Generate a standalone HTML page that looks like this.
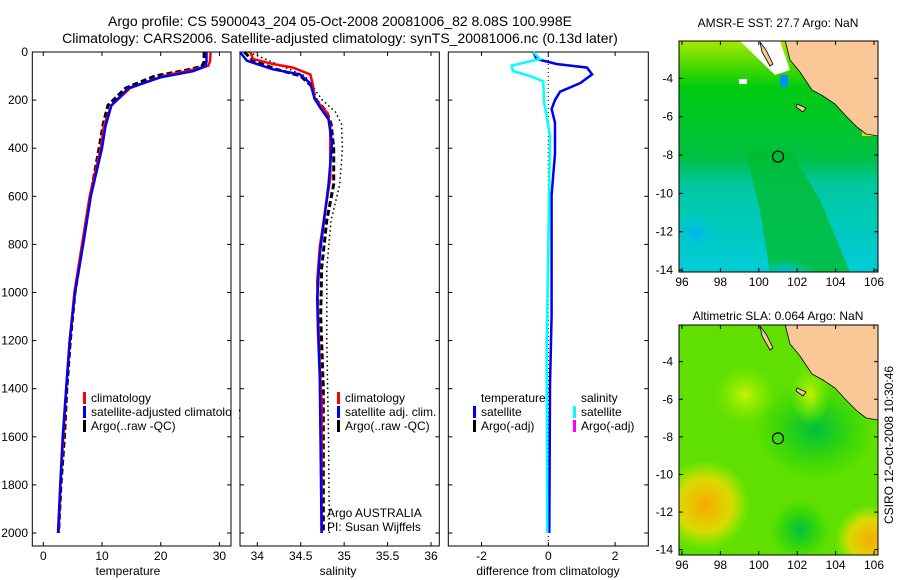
<!DOCTYPE html>
<html><head><meta charset="utf-8"><style>
body{margin:0;background:#fff;}
svg{display:block;font-family:"Liberation Sans",sans-serif;}
</style></head><body>
<svg id="fig" width="900" height="580" viewBox="0 0 900 580" xmlns="http://www.w3.org/2000/svg">
<defs>
<radialGradient id="sstCyanL" cx="0.5" cy="0.5" r="0.5"><stop offset="0" stop-color="#00b4f0"/><stop offset="1" stop-color="#00d0d0" stop-opacity="0"/></radialGradient>
<radialGradient id="slaOr" cx="0.5" cy="0.5" r="0.5"><stop offset="0" stop-color="#f8a800"/><stop offset="0.6" stop-color="#f8d800" stop-opacity="0.8"/><stop offset="1" stop-color="#c8f000" stop-opacity="0"/></radialGradient>
<radialGradient id="slaYel" cx="0.5" cy="0.5" r="0.5"><stop offset="0" stop-color="#c8f000"/><stop offset="1" stop-color="#90f000" stop-opacity="0"/></radialGradient>
<radialGradient id="slaGrn" cx="0.5" cy="0.5" r="0.5"><stop offset="0" stop-color="#00c040"/><stop offset="1" stop-color="#00d000" stop-opacity="0"/></radialGradient>
<linearGradient id="sstBase" x1="0" y1="0" x2="0" y2="1"><stop offset="0" stop-color="#a8e800"/><stop offset="0.12" stop-color="#40d800"/><stop offset="0.2" stop-color="#00cc10"/><stop offset="0.5" stop-color="#00c040"/><stop offset="0.62" stop-color="#00c8a0"/><stop offset="1" stop-color="#00ccd8"/></linearGradient>
<clipPath id="clipMap1"><rect x="679" y="41" width="199" height="231"/></clipPath>
<clipPath id="clipMap2"><rect x="679" y="325" width="199" height="230"/></clipPath>
</defs>
<g id="layer"></g>
</svg>
<script>
// ---------- data ----------
const depthTicks = [0,200,400,600,800,1000,1200,1400,1600,1800,2000];
const tempTicks = [0,10,20,30];
const salTicks = [34,34.5,35,35.5,36];
const diffTicks = [-2,0,2];
const lonTicks = [96,98,100,102,104,106];
const latTicks = [-4,-6,-8,-10,-12,-14];

const tClimDepth = [0,40,57,72,100,150,222,308,400,600,800,1000,1200,1400,1600,1800,2000];
const tClimVal   = [28.5,28.4,28.1,25.8,20.5,14.8,11.6,10.3,9.8,7.9,6.6,5.3,4.5,3.9,3.4,2.9,2.6];
const tSatDepth  = [0,40,60,80,105,150,222,308,400,600,800,1000,1200,1400,1600,1800,2000];
const tSatVal    = [27.8,27.8,27.6,25.5,20.0,14.5,11.6,10.6,10.0,8.1,6.8,5.4,4.5,3.9,3.3,2.9,2.5];
const tArgoDepth = [0,40,60,75,100,150,222,300,400,600,800,1000,1200,1400,1600,1800,2000];
const tArgoVal   = [27.4,27.4,27.0,24.5,19.0,14.0,11.0,10.2,9.5,8.0,6.7,5.4,4.6,4.0,3.6,3.0,2.6];

const sClimDepth = [0,29,50,65,93,136,194,251,308,523,667,810,953,1097,1312,1455,2000];
const sClimVal   = [33.92,33.95,34.18,34.41,34.61,34.64,34.66,34.80,34.84,34.84,34.78,34.72,34.69,34.70,34.72,34.74,34.74];
const sSatDepth  = [0,36,72,93,130,194,229,280,380,552,667,839,1025,1168,1355,2000];
const sSatVal    = [33.80,33.88,34.18,34.49,34.61,34.66,34.72,34.82,34.86,34.82,34.78,34.72,34.69,34.70,34.72,34.74];
const sArgoDepth = [0,36,72,100,140,200,250,300,400,550,700,900,1100,1400,1700,2000];
const sArgoVal   = [33.85,33.95,34.22,34.50,34.62,34.68,34.80,34.85,34.88,34.88,34.80,34.74,34.73,34.76,34.76,34.76];
const sRawDepth  = [0,100,200,250,300,400,550,700,900,1200,1600,2000];
const sRawVal    = [33.90,34.55,34.75,34.90,34.97,34.98,34.95,34.85,34.80,34.80,34.82,34.83];

const dTDepth = [0,29,50,65,93,129,165,200,237,294,423,595,1097,1384,2000];
const dTVal   = [-0.45,-0.35,0.25,1.16,1.31,0.96,0.35,0.20,0.10,0.20,0.20,0.10,0.10,0.05,0.03];
const dSDepth = [0,29,57,79,100,122,208,265,351,810,1240,2000];
const dSVal   = [-0.45,-0.25,-1.10,-1.06,-0.55,-0.15,-0.13,-0.05,0.05,0.00,-0.05,-0.03];

// ---------- helpers ----------
const NS='http://www.w3.org/2000/svg';
const layer=document.getElementById('layer');
function mk(tag,attrs,parent){const e=document.createElementNS(NS,tag);for(const k in attrs)e.setAttribute(k,attrs[k]);(parent||layer).appendChild(e);return e;}
function txt(x,y,s,attrs,parent){const e=mk('text',Object.assign({x:x,y:y,'font-size':12,fill:'#000'},attrs||{}),parent);e.textContent=s;return e;}
const yTop=52, yScale=0.2405, axTop=52, axBot=546;
function yDepth(d){return yTop+d*yScale;}
const xTemp=v=>43.3+v*5.87;
const xSal=v=>257.3+(v-34)*86.85;
const xDiff=v=>548.3+v*33.4;

function panel(name,x0,x1,ticks,xf,label,labelX){
  const g=mk('g',{});
  
  
  mk('rect',{x:x0,y:axTop,width:x1-x0,height:axBot-axTop,fill:'#fff',stroke:'#000','stroke-width':1},g);
  ticks.forEach(t=>{const x=xf(t);
    mk('line',{x1:x,y1:axTop,x2:x,y2:axTop+4,stroke:'#000'},g);
    mk('line',{x1:x,y1:axBot,x2:x,y2:axBot-4,stroke:'#000'},g);
    const tl=txt(x,560,String(t),{'text-anchor':'middle'},g);
    
    
  });
  depthTicks.forEach(d=>{const y=yDepth(d);
    mk('line',{x1:x0,y1:y,x2:x0+4,y2:y,stroke:'#000'},g);
    mk('line',{x1:x1,y1:y,x2:x1-4,y2:y,stroke:'#000'},g);
  });
  const al=txt(labelX,575,label,{'text-anchor':'middle'},g);
  
  
  return g;
}
function line(depths,vals,xf,color,w,dash,name,parent){
  const pts=depths.map((d,i)=>xf(vals[i]).toFixed(1)+','+yDepth(d).toFixed(1)).join(' ');
  const p=mk('polyline',{points:pts,fill:'none',stroke:color,'stroke-width':w},parent);
  if(dash)p.setAttribute('stroke-dasharray',dash);
  
  
  return p;
}
function legendEntry(x,y,color,label,parent){
  mk('rect',{x:x,y:y-10,width:3,height:12,fill:color},parent);
  const t=txt(x+8,y,label,{},parent);
  
  
}

// titles
const t1=txt(340,26,'Argo profile: CS 5900043_204 05-Oct-2008 20081006_82 8.08S 100.998E',{'text-anchor':'middle','font-size':14});


const t2=txt(340,43,'Climatology: CARS2006. Satellite-adjusted climatology: synTS_20081006.nc (0.13d later)',{'text-anchor':'middle','font-size':14});



// panel 1: temperature
const p1=panel('temperature-panel',32.3,231,tempTicks,xTemp,'temperature',128);
depthTicks.forEach(d=>{const l=txt(28,yDepth(d)+4,String(d),{'text-anchor':'end'},p1);
  
  });
line(tArgoDepth,tArgoVal,xTemp,'#000',3,'6,3','temp-argo-line',p1);
line(tClimDepth,tClimVal,xTemp,'#f00',2.5,null,'temp-climatology-line',p1);
line(tSatDepth,tSatVal,xTemp,'#0000ee',2.5,null,'temp-satellite-line',p1);
legendEntry(83,402,'#f00','climatology',p1);
legendEntry(83,416,'#0000ee','satellite-adjusted climatology',p1);
legendEntry(83,430,'#000','Argo(..raw -QC)',p1);
mk('rect',{x:232,y:380,width:7,height:60,fill:'#fff'},p1);

// panel 2: salinity
const p2=panel('salinity-panel',240,439.3,salTicks,xSal,'salinity',338);
line(sRawDepth,sRawVal,xSal,'#000',1.5,'1.5,3','salinity-raw-dotted-line',p2);
line(sArgoDepth,sArgoVal,xSal,'#000',3,'6,3','salinity-argo-line',p2);
line(sClimDepth,sClimVal,xSal,'#f00',2.5,null,'salinity-climatology-line',p2);
line(sSatDepth,sSatVal,xSal,'#0000ee',2.5,null,'salinity-satellite-line',p2);
legendEntry(337,402,'#f00','climatology',p2);
legendEntry(337,416,'#0000ee','satellite adj. clim.',p2);
legendEntry(337,430,'#000','Argo(..raw -QC)',p2);
const a1=txt(327,517,'Argo AUSTRALIA',{},p2);


const a2=txt(327,531,'PI: Susan Wijffels',{},p2);



// panel 3: difference
const p3=panel('difference-panel',448.3,648.3,diffTicks,xDiff,'difference from climatology',548);
mk('line',{x1:xDiff(0),y1:axTop,x2:xDiff(0),y2:axBot,stroke:'#000','stroke-width':1,'stroke-dasharray':'1,3'},p3);
line(dTDepth,dTVal,xDiff,'#0000ee',2.5,null,'temp-difference-line',p3);
line(dSDepth,dSVal,xDiff,'#00ffff',2.5,null,'salinity-difference-line',p3);
const lt=txt(481,402,'temperature',{},p3);


const ls=txt(581,402,'salinity',{},p3);


legendEntry(473,416,'#0000ee','satellite',p3);
legendEntry(473,430,'#000','Argo(-adj)',p3);
legendEntry(573,416,'#00ffff','satellite',p3);
legendEntry(573,430,'#ff00ff','Argo(-adj)',p3);

// ---------- maps ----------
function mapAxes(name,top,bot,title,titleY,latTop,latScale){
  const g=mk('g',{});
  
  
  const lonX=v=>682+(v-96)*19.2;
  const latY=v=>top+(latTop-v)*latScale;
  mk('rect',{x:679,y:top,width:199,height:bot-top,fill:'none',stroke:'#000'},g);
  lonTicks.forEach(v=>{const x=lonX(v);
    mk('line',{x1:x,y1:bot,x2:x,y2:bot-4,stroke:'#000'},g);
    mk('line',{x1:x,y1:top,x2:x,y2:top+4,stroke:'#000'},g);
    const l=txt(x,bot+14,String(v),{'text-anchor':'middle'},g);
    
    });
  latTicks.forEach(v=>{const y=latY(v);
    mk('line',{x1:679,y1:y,x2:683,y2:y,stroke:'#000'},g);
    mk('line',{x1:878,y1:y,x2:874,y2:y,stroke:'#000'},g);
    const l=txt(673,y+4,String(v),{'text-anchor':'end'},g);
    
    });
  const tt=txt(778,titleY,title,{'text-anchor':'middle'},g);
  
  
  const c=mk('circle',{cx:lonX(101),cy:latY(-8.08),r:5.5,fill:'none',stroke:'#000','stroke-width':1.2},g);
  
  
  return g;
}
function land(dy,clip){
  const g=mk('g',{'clip-path':'url(#'+clip+')'});
  
  
  mk('polygon',{points:[[775,0],[790,60],[800,72],[812,90],[823,96],[835,104],[846,116],[857,127],[866,134],[878,136],[878,0]].map(p=>p[0]+','+(p[1]+dy)).join(' '),fill:'#f9c896',stroke:'#000','stroke-width':0.8},g);
  mk('polygon',{points:[[760,42],[766,50],[773,64],[770,66],[762,52]].map(p=>p[0]+','+(p[1]+dy)).join(' '),fill:'#f9c896',stroke:'#000','stroke-width':0.8},g);
  mk('polygon',{points:[[797,104],[806,108],[803,112],[796,107]].map(p=>p[0]+','+(p[1]+dy)).join(' '),fill:'#f9c896',stroke:'#000','stroke-width':0.8},g);
  return g;
}
// top map (SST)
const m1=mk('g',{'clip-path':'url(#clipMap1)'});


mk('rect',{x:679,y:41,width:199,height:231,fill:'url(#sstBase)'},m1);
mk('polygon',{points:'745,150 790,150 820,200 850,272 770,272 760,210',fill:'#00bb30',opacity:0.8},m1);
mk('ellipse',{cx:695,cy:233,rx:25,ry:22,fill:'url(#sstCyanL)'},m1);
mk('ellipse',{cx:785,cy:272,rx:30,ry:12,fill:'url(#sstCyanL)'},m1);
mk('polygon',{points:'740,41 780,41 790,70 775,75',fill:'#fff'},m1);
mk('rect',{x:739,y:79,width:8,height:5,fill:'#fff'},m1);
mk('rect',{x:780,y:75,width:8,height:12,fill:'#0090f0'},m1);
mk('rect',{x:862,y:41,width:16,height:95,fill:'#f0d800'},m1);
land(0,'clipMap1');
mapAxes('sst-map',41,272,'AMSR-E SST: 27.7 Argo: NaN',27,-2.05,19.17);

// bottom map (SLA)
const m2=mk('g',{'clip-path':'url(#clipMap2)'});


mk('rect',{x:679,y:325,width:199,height:230,fill:'#60e000'},m2);
mk('ellipse',{cx:815,cy:430,rx:60,ry:50,fill:'url(#slaGrn)'},m2);
mk('ellipse',{cx:800,cy:530,rx:30,ry:30,fill:'url(#slaGrn)'},m2);
mk('ellipse',{cx:745,cy:395,rx:30,ry:30,fill:'url(#slaYel)'},m2);
mk('ellipse',{cx:810,cy:395,rx:20,ry:30,fill:'url(#slaYel)'},m2);
mk('ellipse',{cx:705,cy:505,rx:45,ry:45,fill:'url(#slaOr)'},m2);
mk('ellipse',{cx:870,cy:540,rx:35,ry:35,fill:'url(#slaOr)'},m2);
land(284,'clipMap2');
mapAxes('sla-map',325,555,'Altimetric SLA: 0.064 Argo: NaN',320,-2.05,18.8);

const cs=txt(0,0,'CSIRO 12-Oct-2008 10:30:46',{'text-anchor':'middle',transform:'translate(893,445) rotate(-90)'});


</script>
</body></html>
